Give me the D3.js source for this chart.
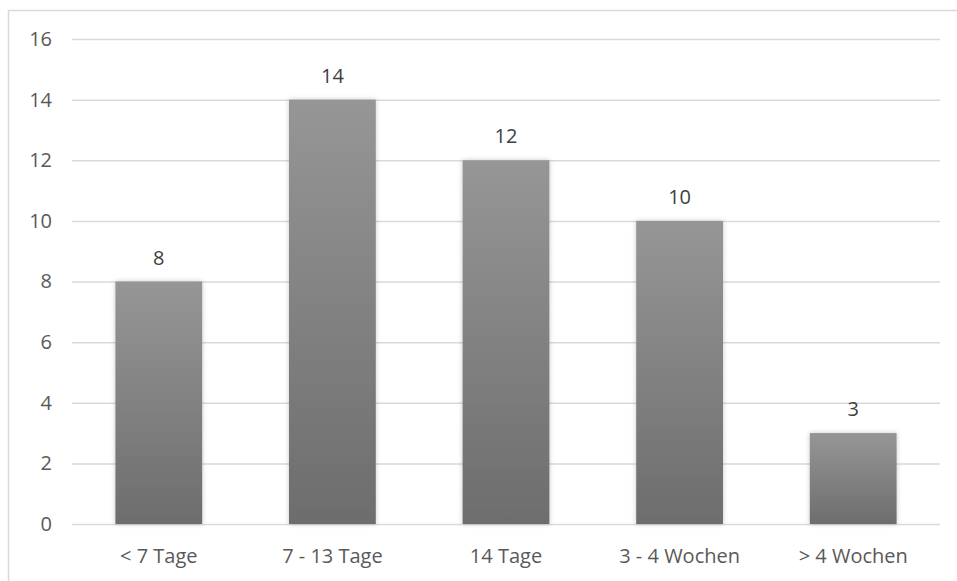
<!DOCTYPE html>
<html><head><meta charset="utf-8">
<script src="https://cdn.jsdelivr.net/npm/d3@7"></script>
<style>body{margin:0;background:#fff;}svg{display:block;}</style>
</head><body>
<svg id="chart" width="957" height="581"></svg>
<script>
const categories = ["< 7 Tage", "7 - 13 Tage", "14 Tage", "3 - 4 Wochen", "> 4 Wochen"];
const values = [8, 14, 12, 10, 3];
const yTicks = [0, 2, 4, 6, 8, 10, 12, 14, 16];

(function () {
const svg = d3.select("#chart");
const W = 957, H = 581;
const pL = 72, pR = 940, pT = 39, pB = 524;
const font = "'Open Sans', sans-serif";
const fs = 20;

// chart border (top and left visible)
svg.append("path").attr("d", `M8.5,${H} L8.5,10.5 L${W},10.5`)
  .attr("fill", "none").attr("stroke", "#d9d9d9").attr("stroke-width", 1.5);

const x = d3.scaleBand().domain(categories).range([pL, pR]).paddingInner(0.5).paddingOuter(0.25);
const y = d3.scaleLinear().domain([0, 16]).range([pB, pT]);

const defs = svg.append("defs");
const grad = defs.append("linearGradient").attr("id", "barGrad").attr("x1", 0).attr("y1", 0).attr("x2", 0).attr("y2", 1);
grad.append("stop").attr("offset", "0%").attr("stop-color", "#969696");
grad.append("stop").attr("offset", "100%").attr("stop-color", "#6d6d6d");
const f = defs.append("filter").attr("id", "shadow").attr("x", "-20%").attr("y", "-20%").attr("width", "140%").attr("height", "140%");
f.append("feDropShadow").attr("dx", 0).attr("dy", 0).attr("stdDeviation", 2.5).attr("flood-color", "#000").attr("flood-opacity", 0.22);

// gridlines
const yAxis = d3.axisLeft(y).tickValues(yTicks).tickSize(-(pR - pL)).tickPadding(12);
const gy = svg.append("g").attr("transform", `translate(${pL},0)`).call(yAxis);
gy.select(".domain").remove();
gy.selectAll(".tick line").attr("stroke", "#d9d9d9").attr("stroke-width", 1.5);
gy.selectAll(".tick text").attr("fill", "#595959").attr("font-family", font).attr("font-size", fs).attr("x", -20);

// bars
svg.append("g").selectAll("rect").data(values).join("rect")
  .attr("x", (d, i) => x(categories[i]))
  .attr("y", d => y(d))
  .attr("width", x.bandwidth())
  .attr("height", d => y(0) - y(d))
  .attr("fill", "url(#barGrad)")
  .attr("filter", "url(#shadow)");

// value labels
svg.append("g").selectAll("text").data(values).join("text")
  .attr("x", (d, i) => x(categories[i]) + x.bandwidth() / 2)
  .attr("y", d => y(d) - 17)
  .attr("text-anchor", "middle")
  .attr("fill", "#404040").attr("font-family", font).attr("font-size", fs)
  .text(d => d);

// x axis labels
const xAxis = d3.axisBottom(x).tickSize(0).tickPadding(25);
const gx = svg.append("g").attr("transform", `translate(0,${pB})`).call(xAxis);
gx.select(".domain").remove();
gx.selectAll(".tick text").attr("fill", "#595959").attr("font-family", font).attr("font-size", fs);
})();
</script>
</body></html>
